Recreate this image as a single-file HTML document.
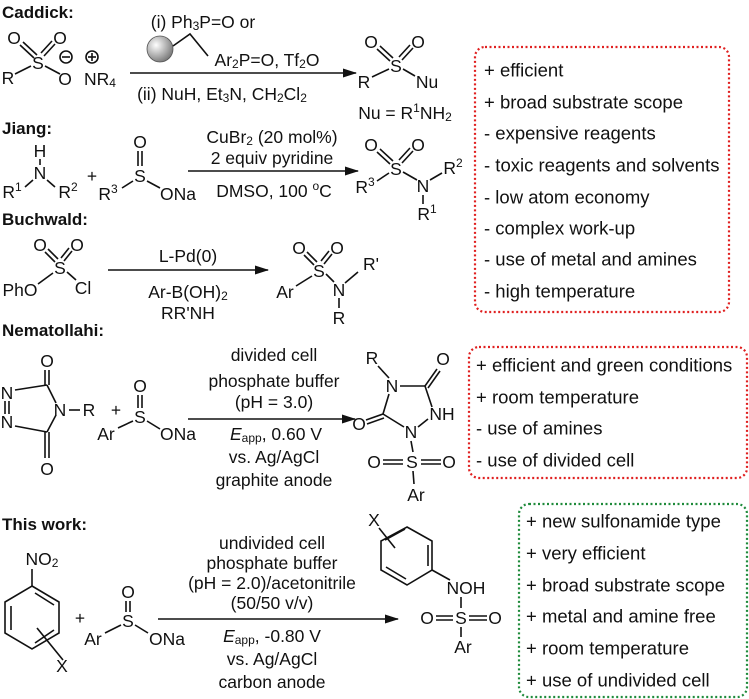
<!DOCTYPE html>
<html><head><meta charset="utf-8"><style>
html,body{margin:0;padding:0;background:#fff}
svg{display:block;font-family:"Liberation Sans",sans-serif}
text{fill:#111}
.c{font-size:17.5px;text-anchor:middle;dominant-baseline:central}
.h{font-size:17px;font-weight:bold}
.l{font-size:18.5px;dominant-baseline:central}
line,polyline,polygon.b{stroke:#111;stroke-width:1.6;fill:none}
</style></head><body>
<svg width="749" height="699" viewBox="0 0 749 699">
<defs>
<radialGradient id="g" cx="0.35" cy="0.35" r="0.7"><stop offset="0" stop-color="#fff"/><stop offset="1" stop-color="#777"/></radialGradient>
<marker id="a" markerWidth="14" markerHeight="9" refX="13" refY="4.5" orient="auto" markerUnits="userSpaceOnUse"><polygon points="0,0 14,4.5 0,9" fill="#111"/></marker>
</defs>
<text class="h" x="2" y="18">Caddick:</text>
<text class="h" x="2" y="134">Jiang:</text>
<text class="h" x="2" y="225">Buchwald:</text>
<text class="h" x="2" y="336">Nematollahi:</text>
<text class="h" x="2" y="530">This work:</text>

<!-- Caddick reactant -->
<text class="c" x="14" y="38">O</text><text class="c" x="60" y="38">O</text>
<line x1="20" y1="45" x2="34" y2="58"/><line x1="23" y1="42" x2="37" y2="55"/>
<line x1="55" y1="44" x2="44" y2="56"/><line x1="52" y1="41" x2="41" y2="53"/>
<text class="c" x="38" y="63">S</text>
<text class="c" x="8" y="78">R</text>
<line x1="15" y1="74" x2="31" y2="66"/><line x1="45" y1="66" x2="60" y2="74"/>
<text class="c" x="65" y="79">O</text>
<circle cx="66" cy="57" r="6" fill="none" stroke="#111" stroke-width="1.6"/><line x1="62" y1="57" x2="70" y2="57"/>
<circle cx="92" cy="57" r="6" fill="none" stroke="#111" stroke-width="1.6"/><line x1="88" y1="57" x2="96" y2="57"/><line x1="92" y1="53" x2="92" y2="61"/>
<text class="c" x="100" y="79">NR<tspan dy="4" font-size="12">4</tspan></text>
<!-- Caddick conditions -->
<text class="c" x="203" y="22">(i) Ph<tspan dy="4" font-size="12">3</tspan><tspan dy="-4">P=O  or</tspan></text>
<circle cx="160" cy="49" r="13" fill="url(#g)" stroke="#555" stroke-width="0.8"/>
<polyline points="173,46 190,34 208,56"/>
<text class="c" x="267" y="60">Ar<tspan dy="4" font-size="12">2</tspan><tspan dy="-4">P=O, Tf</tspan><tspan dy="4" font-size="12">2</tspan><tspan dy="-4">O</tspan></text>
<line x1="130" y1="73" x2="356" y2="73" marker-end="url(#a)"/>
<text class="c" x="222" y="94">(ii) NuH, Et<tspan dy="4" font-size="12">3</tspan><tspan dy="-4">N, CH</tspan><tspan dy="4" font-size="12">2</tspan><tspan dy="-4">Cl</tspan><tspan dy="4" font-size="12">2</tspan></text>
<!-- Caddick product -->
<text class="c" x="371" y="42">O</text><text class="c" x="418" y="42">O</text>
<line x1="377" y1="49" x2="390" y2="61"/><line x1="380" y1="46" x2="393" y2="58"/>
<line x1="413" y1="48" x2="402" y2="60"/><line x1="410" y1="45" x2="399" y2="57"/>
<text class="c" x="396" y="66">S</text>
<text class="c" x="364" y="82">R</text>
<line x1="372" y1="77" x2="389" y2="69"/><line x1="403" y1="69" x2="415" y2="76"/>
<text class="c" x="427" y="82">Nu</text>
<text class="c" x="405" y="113">Nu = R<tspan dy="-5" font-size="12">1</tspan><tspan dy="5">NH</tspan><tspan dy="4" font-size="12">2</tspan></text>

<!-- Jiang -->
<text class="c" x="40" y="151">H</text>
<line x1="40" y1="159" x2="40" y2="165"/>
<text class="c" x="40" y="173">N</text>
<text class="c" x="12" y="192">R<tspan dy="-5" font-size="12">1</tspan></text>
<line x1="25" y1="187" x2="33" y2="180"/><line x1="47" y1="180" x2="55" y2="187"/>
<text class="c" x="68" y="192">R<tspan dy="-5" font-size="12">2</tspan></text>
<text class="c" x="92" y="176">+</text>
<text class="c" x="140" y="142">O</text>
<line x1="138" y1="151" x2="138" y2="166"/><line x1="142" y1="151" x2="142" y2="166"/>
<text class="c" x="140" y="176">S</text>
<text class="c" x="108" y="194">R<tspan dy="-5" font-size="12">3</tspan></text>
<line x1="122" y1="188" x2="133" y2="181"/><line x1="147" y1="181" x2="160" y2="188"/>
<text class="c" x="178" y="194">ONa</text>
<text class="c" x="272" y="137">CuBr<tspan dy="4" font-size="12">2</tspan><tspan dy="-4"> (20 mol%)</tspan></text>
<text class="c" x="272" y="158">2 equiv pyridine</text>
<line x1="188" y1="171" x2="358" y2="171" marker-end="url(#a)"/>
<text class="c" x="274" y="191">DMSO, 100 <tspan dy="-5" font-size="12">o</tspan><tspan dy="5">C</tspan></text>
<text class="c" x="371" y="145">O</text><text class="c" x="418" y="145">O</text>
<line x1="377" y1="152" x2="390" y2="164"/><line x1="380" y1="149" x2="393" y2="161"/>
<line x1="413" y1="151" x2="402" y2="163"/><line x1="410" y1="148" x2="399" y2="160"/>
<text class="c" x="396" y="169">S</text>
<text class="c" x="365" y="187">R<tspan dy="-5" font-size="12">3</tspan></text>
<line x1="377" y1="181" x2="389" y2="173"/><line x1="403" y1="172" x2="417" y2="180"/>
<text class="c" x="423" y="186">N</text>
<line x1="430" y1="180" x2="442" y2="173"/>
<text class="c" x="453" y="168">R<tspan dy="-5" font-size="12">2</tspan></text>
<line x1="423" y1="195" x2="423" y2="204"/>
<text class="c" x="427" y="214">R<tspan dy="-5" font-size="12">1</tspan></text>

<!-- Buchwald -->
<text class="c" x="40" y="245">O</text><text class="c" x="77" y="245">O</text>
<line x1="45" y1="252" x2="55" y2="262"/><line x1="48" y1="249" x2="58" y2="259"/>
<line x1="72" y1="251" x2="64" y2="261"/><line x1="69" y1="248" x2="61" y2="258"/>
<text class="c" x="60" y="268">S</text>
<text class="c" x="20" y="290">PhO</text>
<line x1="38" y1="284" x2="53" y2="273"/><line x1="67" y1="272" x2="76" y2="280"/>
<text class="c" x="83" y="288">Cl</text>
<text class="c" x="188" y="256">L-Pd(0)</text>
<line x1="108" y1="270" x2="268" y2="270" marker-end="url(#a)"/>
<text class="c" x="188" y="292">Ar-B(OH)<tspan dy="4" font-size="12">2</tspan></text>
<text class="c" x="188" y="313">RR'NH</text>
<text class="c" x="299" y="248">O</text><text class="c" x="337" y="248">O</text>
<line x1="304" y1="255" x2="314" y2="265"/><line x1="307" y1="252" x2="317" y2="262"/>
<line x1="332" y1="254" x2="324" y2="264"/><line x1="329" y1="251" x2="321" y2="261"/>
<text class="c" x="319" y="271">S</text>
<text class="c" x="285" y="292">Ar</text>
<line x1="296" y1="286" x2="312" y2="276"/><line x1="326" y1="274" x2="334" y2="282"/>
<text class="c" x="339" y="290">N</text>
<line x1="345" y1="283" x2="358" y2="272"/>
<text class="c" x="371" y="264">R'</text>
<line x1="339" y1="298" x2="339" y2="308"/>
<text class="c" x="339" y="318">R</text>

<!-- Nematollahi reactant -->
<text class="c" x="47" y="361">O</text>
<line x1="45" y1="370" x2="45" y2="385"/><line x1="49" y1="370" x2="49" y2="385"/>
<text class="c" x="7" y="393">N</text><text class="c" x="7" y="422">N</text>
<line x1="5" y1="401" x2="5" y2="414"/><line x1="9" y1="401" x2="9" y2="414"/>
<line x1="15" y1="390" x2="47" y2="385"/><line x1="47" y1="385" x2="56" y2="403"/>
<line x1="15" y1="426" x2="47" y2="432"/><line x1="47" y1="432" x2="56" y2="415"/>
<text class="c" x="60" y="410">N</text>
<line x1="69" y1="410" x2="80" y2="410"/>
<text class="c" x="89" y="410">R</text>
<line x1="45" y1="432" x2="45" y2="458"/><line x1="49" y1="432" x2="49" y2="458"/>
<text class="c" x="47" y="469">O</text>
<text class="c" x="116" y="410">+</text>
<text class="c" x="140" y="386">O</text>
<line x1="138" y1="395" x2="138" y2="408"/><line x1="142" y1="395" x2="142" y2="408"/>
<text class="c" x="140" y="417">S</text>
<text class="c" x="106" y="434">Ar</text>
<line x1="118" y1="428" x2="133" y2="421"/><line x1="147" y1="421" x2="160" y2="429"/>
<text class="c" x="178" y="434">ONa</text>
<text class="c" x="274" y="355">divided cell</text>
<text class="c" x="274" y="381">phosphate buffer</text>
<text class="c" x="274" y="402">(pH = 3.0)</text>
<line x1="188" y1="419" x2="355" y2="419" marker-end="url(#a)"/>
<text class="c" x="276" y="434"><tspan font-style="italic">E</tspan><tspan dy="4" font-size="12">app</tspan><tspan dy="-4">, 0.60 V</tspan></text>
<text class="c" x="274" y="457">vs. Ag/AgCl</text>
<text class="c" x="274" y="480">graphite anode</text>
<!-- Nematollahi product -->
<text class="c" x="372" y="358">R</text>
<line x1="378" y1="366" x2="389" y2="378"/>
<text class="c" x="392" y="386">N</text>
<line x1="400" y1="386" x2="425" y2="386"/>
<line x1="425" y1="386" x2="437" y2="369"/><line x1="428" y1="388" x2="440" y2="371"/>
<text class="c" x="443" y="359">O</text>
<line x1="425" y1="386" x2="432" y2="407"/>
<text class="c" x="442" y="414">NH</text>
<line x1="428" y1="419" x2="418" y2="427"/>
<text class="c" x="411" y="432">N</text>
<line x1="404" y1="427" x2="383" y2="414"/>
<line x1="383" y1="414" x2="389" y2="394"/>
<line x1="383" y1="414" x2="366" y2="420"/><line x1="384" y1="418" x2="367" y2="424"/>
<text class="c" x="359" y="424">O</text>
<line x1="411" y1="441" x2="413" y2="452"/>
<text class="c" x="374" y="462">O</text>
<line x1="383" y1="460" x2="403" y2="460"/><line x1="383" y1="464" x2="403" y2="464"/>
<text class="c" x="412" y="462">S</text>
<line x1="421" y1="460" x2="441" y2="460"/><line x1="421" y1="464" x2="441" y2="464"/>
<text class="c" x="449" y="462">O</text>
<line x1="413" y1="471" x2="414" y2="484"/>
<text class="c" x="416" y="495">Ar</text>

<!-- This work reactant -->
<text class="c" x="42" y="559">NO<tspan dy="4" font-size="12">2</tspan></text>
<line x1="32" y1="569" x2="32" y2="586"/>
<polygon class="b" points="32,586 59,602 59,633 32,649 5,633 5,602"/>
<line x1="35" y1="593" x2="54" y2="605"/>
<line x1="11" y1="606" x2="11" y2="630"/>
<line x1="35" y1="643" x2="54" y2="630"/>
<line x1="37" y1="628" x2="63" y2="660"/>
<text class="c" x="62" y="666">X</text>
<text class="c" x="80" y="618">+</text>
<text class="c" x="128" y="592">O</text>
<line x1="126" y1="601" x2="126" y2="612"/><line x1="130" y1="601" x2="130" y2="612"/>
<text class="c" x="128" y="621">S</text>
<text class="c" x="93" y="639">Ar</text>
<line x1="105" y1="633" x2="121" y2="625"/><line x1="135" y1="625" x2="148" y2="633"/>
<text class="c" x="167" y="639">ONa</text>
<text class="c" x="272" y="543">undivided cell</text>
<text class="c" x="272" y="563">phosphate buffer</text>
<text class="c" x="272" y="583">(pH = 2.0)/acetonitrile</text>
<text class="c" x="272" y="603">(50/50 v/v)</text>
<line x1="158" y1="619" x2="398" y2="619" marker-end="url(#a)"/>
<text class="c" x="272" y="636"><tspan font-style="italic">E</tspan><tspan dy="4" font-size="12">app</tspan><tspan dy="-4">, -0.80 V</tspan></text>
<text class="c" x="272" y="659">vs. Ag/AgCl</text>
<text class="c" x="272" y="682">carbon anode</text>
<!-- This work product -->
<text class="c" x="374" y="520">X</text>
<polygon class="b" points="407,527 432,541 432,570 407,585 381,570 381,541"/>
<line x1="428" y1="545" x2="428" y2="566"/>
<line x1="386" y1="567" x2="406" y2="579"/>
<line x1="385" y1="540" x2="405" y2="529"/>
<line x1="379" y1="528" x2="395" y2="548"/>
<line x1="432" y1="570" x2="450" y2="580"/>
<text class="c" x="466" y="588">NOH</text>
<line x1="461" y1="597" x2="461" y2="608"/>
<text class="c" x="427" y="618">O</text>
<line x1="436" y1="616" x2="453" y2="616"/><line x1="436" y1="620" x2="453" y2="620"/>
<text class="c" x="461" y="618">S</text>
<line x1="469" y1="616" x2="487" y2="616"/><line x1="469" y1="620" x2="487" y2="620"/>
<text class="c" x="495" y="618">O</text>
<line x1="461" y1="627" x2="461" y2="637"/>
<text class="c" x="463" y="647">Ar</text>

<!-- boxes -->
<rect x="475" y="47" width="254" height="265" rx="10" fill="none" stroke="#e02020" stroke-width="2.2" stroke-dasharray="2,2.5"/>
<text class="l" x="484" y="70">+ efficient</text>
<text class="l" x="484" y="102">+ broad substrate scope</text>
<text class="l" x="484" y="133">- expensive  reagents</text>
<text class="l" x="484" y="165">- toxic reagents and solvents</text>
<text class="l" x="484" y="197">- low atom economy</text>
<text class="l" x="484" y="228">- complex work-up</text>
<text class="l" x="484" y="259">- use of metal and amines</text>
<text class="l" x="484" y="291">- high temperature</text>

<rect x="469" y="347" width="278" height="131" rx="10" fill="none" stroke="#e02020" stroke-width="2.2" stroke-dasharray="2,2.5"/>
<text class="l" x="476" y="365">+ efficient and green conditions</text>
<text class="l" x="476" y="397">+ room temperature</text>
<text class="l" x="476" y="428">- use of amines</text>
<text class="l" x="476" y="460">- use of divided cell</text>

<rect x="519" y="504" width="228" height="193" rx="10" fill="none" stroke="#1e8a3a" stroke-width="2.2" stroke-dasharray="2,2.5"/>
<text class="l" x="526" y="521">+ new sulfonamide type</text>
<text class="l" x="526" y="553">+ very efficient</text>
<text class="l" x="526" y="585">+ broad substrate scope</text>
<text class="l" x="526" y="616">+ metal and amine free</text>
<text class="l" x="526" y="648">+ room temperature</text>
<text class="l" x="526" y="680">+ use of undivided cell</text>
</svg>
</body></html>
